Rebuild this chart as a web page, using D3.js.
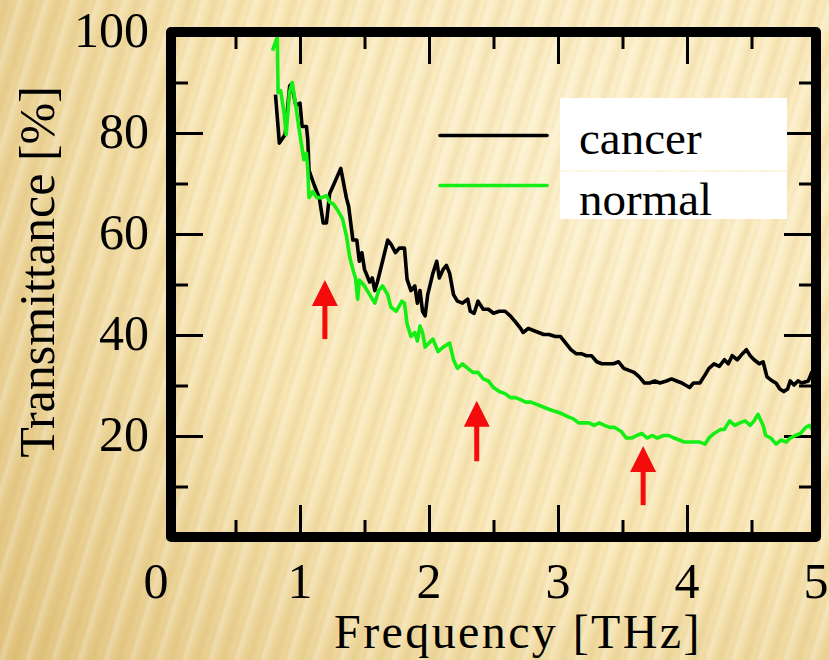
<!DOCTYPE html>
<html>
<head>
<meta charset="utf-8">
<script src="https://cdn.jsdelivr.net/npm/d3@7"></script>
<style>
  html, body { margin: 0; padding: 0; background: #f3e0a8; }
  svg { display: block; }
  text { font-family: "Liberation Serif", "Times New Roman", serif; fill: #000; }
</style>
</head>
<body>
<svg id="chart" width="829" height="660"></svg>
<script>
// THz transmission spectra (%) of cancer and normal tissue
const cancerFreq = [0.81,0.84,0.885,0.92,0.934,0.967,1.0,1.016,1.05,1.06,1.07,1.11,1.15,1.18,1.205,1.23,1.26,1.316,1.36,1.377,1.41,1.44,1.46,1.48,1.5,1.54,1.56,1.58,1.6,1.64,1.68,1.705,1.74,1.77,1.81,1.83,1.86,1.89,1.91,1.93,1.95,1.97,1.99,2.03,2.06,2.08,2.11,2.135,2.16,2.19,2.22,2.26,2.30,2.32,2.35,2.38,2.42,2.46,2.50,2.545,2.59,2.63,2.67,2.71,2.73,2.77,2.81,2.85,2.89,2.93,2.98,3.02,3.06,3.10,3.14,3.18,3.22,3.26,3.30,3.34,3.39,3.43,3.47,3.51,3.55,3.59,3.63,3.67,3.71,3.75,3.79,3.84,3.88,3.92,3.96,4.02,4.05,4.10,4.14,4.17,4.21,4.25,4.29,4.32,4.35,4.39,4.43,4.46,4.49,4.52,4.56,4.59,4.62,4.66,4.69,4.72,4.75,4.78,4.80,4.83,4.86,4.89,4.94,4.97];
const cancerValues = [87.6,78,79.7,89.3,89.7,85.5,85.9,81.3,81.3,78.8,72.6,69.7,67.1,62.2,62.2,68,69.7,73,67.1,65.5,58.8,58.8,54.6,56.3,53,50.5,51.3,48.8,50.5,54.6,58.8,58,56.3,57.2,57.2,51,48.8,49.7,46.3,48.8,44.7,43.8,48,52.2,54.6,51.3,53,53.8,52.2,48,46.7,46.3,47.1,44.7,44.3,46.7,45.1,45.1,44.3,44.7,44.7,43.8,42.6,41.3,40.5,41.3,40.9,40.5,40.1,40.1,39.7,39.7,38.4,37.1,36.3,36.3,35.9,35.9,34.7,34.3,34.3,34.3,34.7,33.4,33,32.6,31.7,30.5,30.5,30.9,30.5,30.9,31.3,30.9,30.5,29.6,30.5,30.5,32.1,33.4,34.3,33.8,35.1,34.3,35.9,35.1,36.3,37.1,35.9,35.1,34.3,34.7,31.7,30.9,30.5,29.3,28.8,29.3,30.9,30.1,30.9,30.5,30.9,32.8];

const normalFreq = [0.787,0.81,0.824,0.83,0.85,0.877,0.893,0.918,0.94,0.967,0.99,1.01,1.03,1.05,1.06,1.07,1.10,1.13,1.17,1.205,1.23,1.26,1.295,1.33,1.36,1.385,1.41,1.43,1.447,1.46,1.50,1.54,1.58,1.61,1.64,1.68,1.705,1.746,1.79,1.81,1.83,1.86,1.89,1.91,1.93,1.95,1.97,2.0,2.03,2.07,2.11,2.16,2.19,2.22,2.26,2.30,2.34,2.38,2.42,2.46,2.50,2.545,2.59,2.63,2.67,2.71,2.75,2.79,2.83,2.87,2.91,2.95,3.0,3.04,3.08,3.12,3.16,3.20,3.24,3.28,3.32,3.36,3.40,3.44,3.49,3.53,3.57,3.61,3.65,3.69,3.73,3.77,3.82,3.86,3.90,3.94,3.98,4.02,4.06,4.10,4.14,4.17,4.21,4.26,4.29,4.33,4.37,4.41,4.45,4.49,4.52,4.55,4.59,4.61,4.65,4.69,4.73,4.77,4.80,4.84,4.88,4.92,4.95,4.98,5.0];
const normalValues = [96.3,98,99,88,88.4,83.8,79.7,88,90,85.5,81.3,78,74.7,76,73,67.2,68.4,67.2,67.2,67.6,66.3,65.9,64.6,63,59.6,55.5,53,51.3,47.1,50.9,49.7,48,46.3,48.8,49.7,48,45.5,44.7,46.7,46.3,42.2,39.7,40.5,38.8,41.8,40.5,37.6,38.4,39.2,36.7,37.6,38.4,35.1,33.4,34.3,33.4,32.6,32.6,31.3,30.9,29.6,28.8,28.4,27.6,27.6,27.2,26.7,26.7,26.3,25.9,25.5,25.1,24.7,24.3,23.8,23.4,22.6,22.6,22.6,22.1,22.6,22.1,21.7,21.7,20.9,19.6,19.6,20.1,20.5,19.6,20.1,19.6,20.1,20.1,19.6,19.2,18.8,18.8,18.8,18.8,18.4,19.6,20.5,21.3,21.3,23,22.1,22.6,23,22.1,23,24.3,22.1,20.1,19.6,18.4,19.2,18.8,19.6,20.1,20.5,21.7,22.1,20.9,20.5];

// Arrows marking absorption features: [frequency, tip %, tail %]
const arrowFreq = [1.193, 2.37, 3.66];
const arrowTip = [50.9, 27.0, 18.0];
const arrowTail = [39.2, 15.0, 6.3];

const xTickValues = [0, 1, 2, 3, 4, 5];
const xMinorTicks = [0.5, 1.5, 2.5, 3.5, 4.5];
const yTickValues = [20, 40, 60, 80, 100];
const yMinorTicks = [10, 30, 50, 70, 90];
const seriesNames = ["cancer", "normal"];
const seriesColors = ["#000000", "#14ee14"];

const W = 829, H = 660;
const svg = d3.select("#chart");
const defs = svg.append("defs");

// Warm golden backdrop with soft diagonal stripes
const bg = defs.append("radialGradient").attr("id", "bgGrad")
  .attr("gradientUnits", "userSpaceOnUse")
  .attr("cx", 600).attr("cy", 170).attr("r", 780);
bg.append("stop").attr("offset", "0").attr("stop-color", "#fdf2cf");
bg.append("stop").attr("offset", "0.5").attr("stop-color", "#f8e6b4");
bg.append("stop").attr("offset", "1").attr("stop-color", "#e0c27c");

const stripeGrad = defs.append("linearGradient").attr("id", "stripeGrad")
  .attr("x1", "0").attr("x2", "1").attr("y1", "0").attr("y2", "0");
[["0", "#c29640", 0.0], ["0.25", "#c29640", 0.14], ["0.5", "#c29640", 0.0],
 ["0.75", "#ffffff", 0.26], ["1", "#ffffff", 0.0]].forEach(([o, c, a]) =>
  stripeGrad.append("stop").attr("offset", o).attr("stop-color", c).attr("stop-opacity", a));

const pat = defs.append("pattern").attr("id", "stripes")
  .attr("patternUnits", "userSpaceOnUse")
  .attr("width", 25).attr("height", 400)
  .attr("patternTransform", "rotate(17)");
pat.append("rect").attr("width", 25).attr("height", 400).attr("fill", "url(#stripeGrad)");

svg.append("rect").attr("width", W).attr("height", H).attr("fill", "url(#bgGrad)");
svg.append("rect").attr("width", W).attr("height", H).attr("fill", "url(#stripes)");

// Scales
const x = d3.scaleLinear().domain([0, 5]).range([171, 816]);
const y = d3.scaleLinear().domain([0, 100]).range([537, 32]);

// Inward ticks on all four sides
function tickGroup(axis, transform) {
  const g = svg.append("g").attr("transform", transform).call(axis);
  g.select(".domain").remove();
  g.selectAll("line").attr("stroke", "#000").attr("stroke-width", 3);
  g.selectAll("text").remove();
}
const majorX = xTickValues.filter(v => v > 0 && v < 5);
const majorY = yTickValues.filter(v => v < 100);
tickGroup(d3.axisBottom(x).tickValues(majorX).tickSize(-32), `translate(0,${y(0)})`);
tickGroup(d3.axisBottom(x).tickValues(xMinorTicks).tickSize(-17), `translate(0,${y(0)})`);
tickGroup(d3.axisTop(x).tickValues(majorX).tickSize(-32), `translate(0,${y(100)})`);
tickGroup(d3.axisTop(x).tickValues(xMinorTicks).tickSize(-17), `translate(0,${y(100)})`);
tickGroup(d3.axisLeft(y).tickValues(majorY).tickSize(-32), `translate(${x(0)},0)`);
tickGroup(d3.axisLeft(y).tickValues(yMinorTicks).tickSize(-17), `translate(${x(0)},0)`);
tickGroup(d3.axisRight(y).tickValues(majorY).tickSize(-32), `translate(${x(5)},0)`);
tickGroup(d3.axisRight(y).tickValues(yMinorTicks).tickSize(-17), `translate(${x(5)},0)`);

// Spectra
const line = d3.line().x(d => x(d[0])).y(d => y(d[1]));
const series = [
  d3.zip(cancerFreq, cancerValues),
  d3.zip(normalFreq, normalValues)
];
series.forEach((pts, i) => {
  svg.append("path").datum(pts)
    .attr("d", line)
    .attr("fill", "none")
    .attr("stroke", seriesColors[i])
    .attr("stroke-width", 3.6)
    .attr("stroke-linejoin", "round");
});

// Red arrows
arrowFreq.forEach((f, i) => {
  const cx = x(f), ty = y(arrowTip[i]), by = y(arrowTail[i]);
  const headLen = 26, headHalf = 13;
  svg.append("line")
    .attr("x1", cx).attr("x2", cx)
    .attr("y1", ty + headLen - 2).attr("y2", by)
    .attr("stroke", "#f40c0c").attr("stroke-width", 5);
  svg.append("path")
    .attr("d", `M${cx},${ty} L${cx + headHalf},${ty + headLen} L${cx - headHalf},${ty + headLen} Z`)
    .attr("fill", "#f40c0c");
});

// Frame
svg.append("rect")
  .attr("x", x(0)).attr("y", y(100))
  .attr("width", x(5) - x(0)).attr("height", y(0) - y(100))
  .attr("fill", "none").attr("stroke", "#000").attr("stroke-width", 10)
  .attr("stroke-linejoin", "round");

// Tick labels
svg.append("g").selectAll("text").data(xTickValues).join("text")
  .attr("x", d => x(d) - (d === 0 ? 15 : 0))
  .attr("y", 598)
  .attr("text-anchor", "middle")
  .attr("font-size", 50)
  .text(d => d);

svg.append("g").selectAll("text").data(yTickValues).join("text")
  .attr("x", 149)
  .attr("y", d => y(d) + 15)
  .attr("text-anchor", "end")
  .attr("font-size", 50)
  .text(d => d);

// Axis titles
svg.append("text")
  .attr("x", 518).attr("y", 648)
  .attr("text-anchor", "middle")
  .attr("font-size", 48)
  .attr("letter-spacing", 2.4)
  .text("Frequency [THz]");

svg.append("text")
  .attr("transform", "translate(54,272) rotate(-90)")
  .attr("text-anchor", "middle")
  .attr("font-size", 50)
  .text("Transmittance [%]");

// Legend
const legendY = [135.5, 185.5];
const legendBoxes = [[98, 170.5], [171.5, 219]];
legendBoxes.forEach(([t, b]) => {
  svg.append("rect").attr("x", 560).attr("y", t)
    .attr("width", 227).attr("height", b - t).attr("fill", "#fff");
});
seriesNames.forEach((name, i) => {
  svg.append("line")
    .attr("x1", 440).attr("x2", 547)
    .attr("y1", legendY[i]).attr("y2", legendY[i])
    .attr("stroke", seriesColors[i]).attr("stroke-width", 3.6)
    .attr("stroke-linecap", "round");
  svg.append("text")
    .attr("x", 579).attr("y", [154, 215][i])
    .attr("font-size", 47)
    .text(name);
});
</script>
</body>
</html>
